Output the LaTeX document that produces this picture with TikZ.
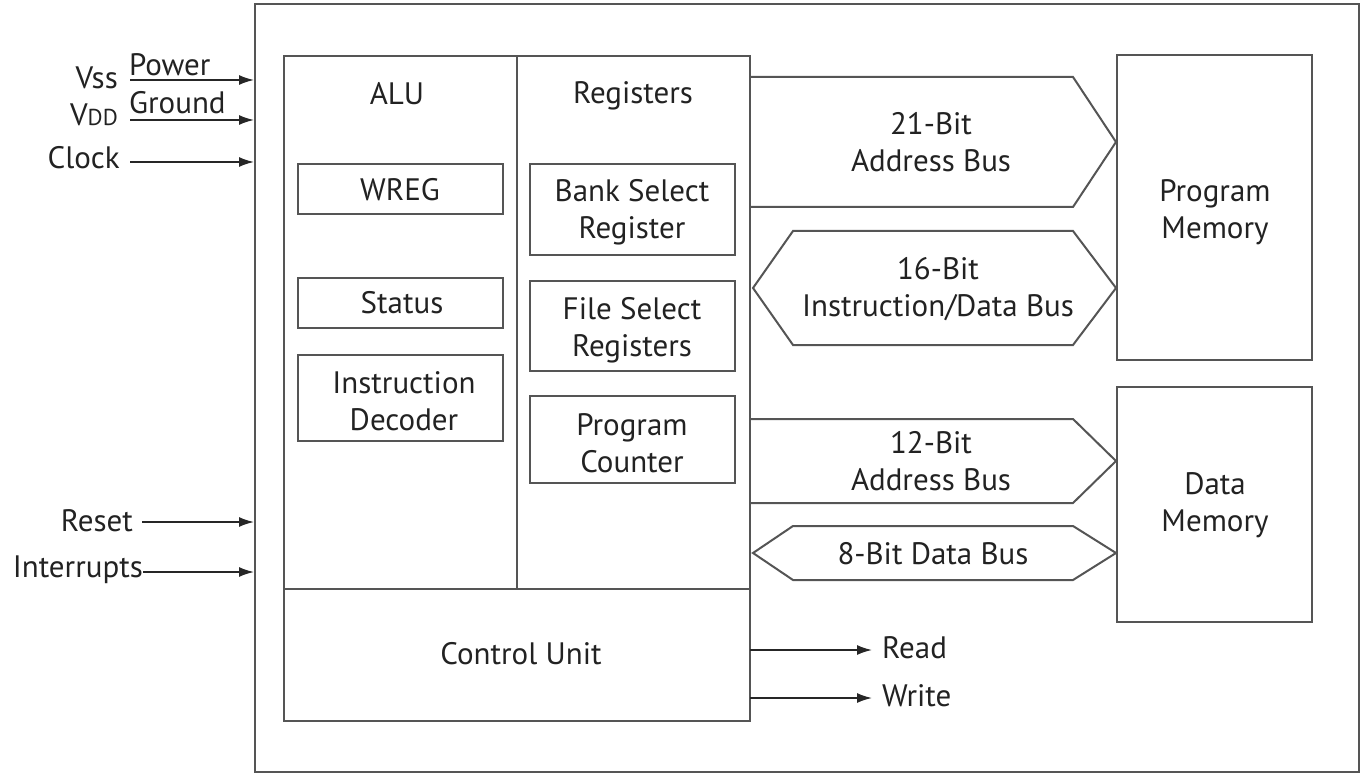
\documentclass[tikz,border=0pt]{standalone}
\usepackage{fontspec}
\setmainfont{PT Sans}
\usetikzlibrary{arrows.meta}
\definecolor{ln}{HTML}{555555}
\definecolor{tx}{HTML}{222222}
\begin{document}
\begin{tikzpicture}[x=1pt,y=-1pt,
  box/.style={draw=ln,line width=2pt},
  lbl/.style={text=tx,font=\fontsize{31}{37}\selectfont,align=center,inner sep=0pt},
  two/.style={yshift=-3pt},
  sig/.style={draw=black!85,line width=1.6pt,-{Latex[length=15pt,width=10pt]}},
  bus/.style={draw=ln,line width=2pt,line join=miter}]
\useasboundingbox (0,0) rectangle (1364,775);
% outer chip box
\draw[box] (255,4) rectangle (1359,772);
% CPU box
\draw[box] (284,56) rectangle (750,721);
\draw[box] (517,56) -- (517,589);
\draw[box] (284,589) -- (750,589);
% ALU column
\node[lbl] (alu) at (397,94) {ALU};
\node[lbl,two] (regs) at (633,93) {Registers};
\draw[box] (298,164) rectangle (503,214);
\node[lbl] (wreg) at (400,190) {WREG};
\draw[box] (298,278) rectangle (503,328);
\node[lbl] (status) at (402,303) {Status};
\draw[box] (298,355) rectangle (503,441);
\node[lbl,two] (idec) at (404,398) {Instruction\\Decoder};
% registers column
\draw[box] (530,164) rectangle (735,255);
\node[lbl,two] (bsr) at (632,209) {Bank Select\\Register};
\draw[box] (530,281) rectangle (735,371);
\node[lbl,two] (fsr) at (632,327) {File Select\\Registers};
\draw[box] (530,396) rectangle (735,483);
\node[lbl,two] (pc) at (632,440) {Program\\Counter};
\node[lbl] (cu) at (521,654) {Control Unit};
% memories
\draw[box] (1117,55) rectangle (1312,360);
\node[lbl,two] (pm) at (1215,209) {Program\\Memory};
\draw[box] (1117,387) rectangle (1312,622);
\node[lbl,two] (dm) at (1215,502) {Data\\Memory};
% buses
\draw[bus] (750,77) -- (1073,77) -- (1116,142) -- (1073,207) -- (750,207);
\node[lbl] (b21) at (931,142) {21-Bit\\Address Bus};
\draw[bus] (753,288) -- (793,231) -- (1073,231) -- (1116,288) -- (1073,345) -- (793,345) -- cycle;
\node[lbl,yshift=-1pt] (b16) at (938,288) {16-Bit\\Instruction/Data Bus};
\draw[bus] (750,419) -- (1073,419) -- (1116,461) -- (1073,503) -- (750,503);
\node[lbl] (b12) at (931,461) {12-Bit\\Address Bus};
\draw[bus] (753,553) -- (793,526) -- (1073,526) -- (1116,553) -- (1073,580) -- (793,580) -- cycle;
\node[lbl] (b8) at (933,554) {8-Bit Data Bus};
% outputs
\coordinate (rd0) at (750,650);
\coordinate (wr0) at (750,698);
\node[lbl,anchor=west] (rd) at (882,648) {Read};
\node[lbl,anchor=west] (wr) at (882,696) {Write};
\draw[sig] (rd0) -- ([xshift=-10pt]rd.west |- rd0);
\draw[sig] (wr0) -- ([xshift=-10pt]wr.west |- wr0);
% inputs
\node[lbl,anchor=east] (vss) at (118,78) {Vss};
\node[lbl,anchor=east] (vdd) at (118,115) {V{\fontsize{23}{23}\selectfont DD}};
\node[lbl,anchor=west] (pow) at (129,65) {Power};
\node[lbl,anchor=west] (gnd) at (129,103) {Ground};
\node[lbl,anchor=east] (clk) at (120,158) {Clock};
\node[lbl,anchor=east] (rst) at (133,521) {Reset};
\node[lbl,anchor=east] (irq) at (143,570) {Interrupts};
\coordinate (pin1) at (254,80);
\coordinate (pin2) at (254,120);
\coordinate (pin3) at (254,162);
\coordinate (pin4) at (254,522);
\coordinate (pin5) at (254,572);
\draw[sig] (130,80) -- (pin1);
\draw[sig] (130,120) -- (pin2);
\draw[sig] ([xshift=10pt]clk.east |- pin3) -- (pin3);
\draw[sig] ([xshift=9pt]rst.east |- pin4) -- (pin4);
\draw[sig] (irq.east |- pin5) -- (pin5);
\end{tikzpicture}
\end{document}
